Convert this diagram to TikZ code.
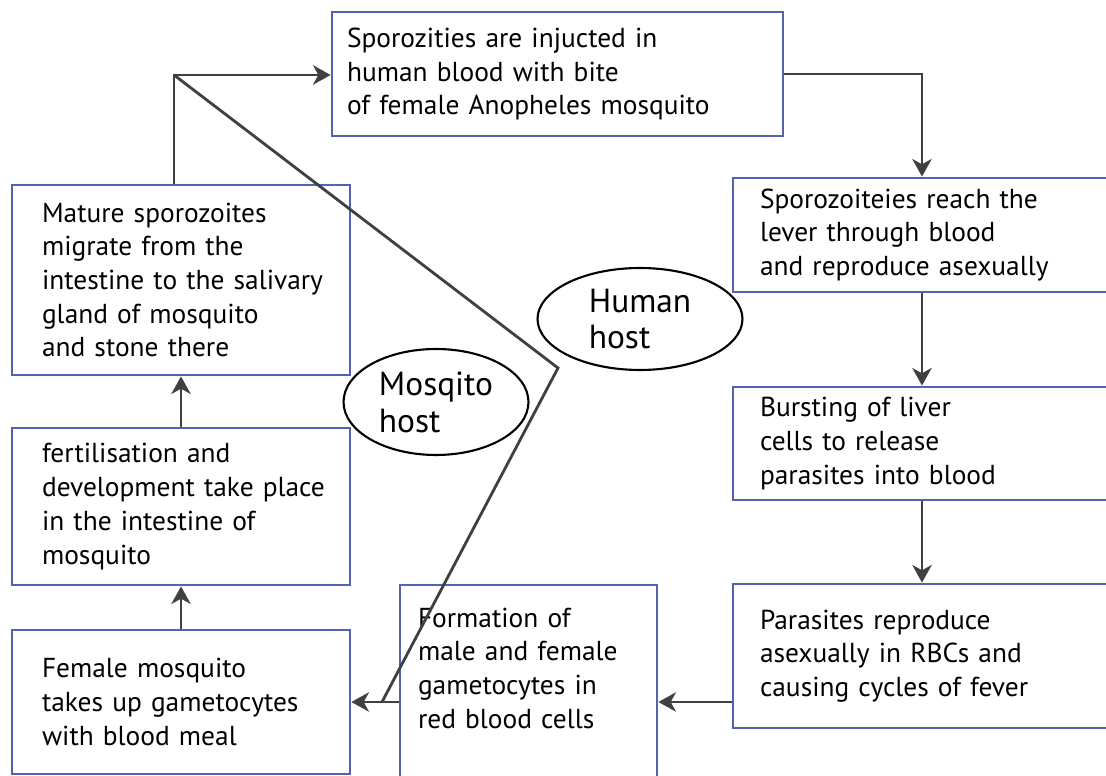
\documentclass[tikz,border=0pt]{standalone}
\usepackage{fontspec}
\setmainfont{PT Sans}
\usetikzlibrary{arrows.meta,positioning,shapes.geometric}
\definecolor{boxblue}{RGB}{84,98,176}
\definecolor{arrowgray}{RGB}{64,64,64}
\tikzset{
  stagebox/.style={draw=boxblue, line width=1.6pt, align=left, inner xsep=0pt, inner ysep=0pt,
    font=\fontsize{15.6}{19.2}\selectfont},
  pad/.style={execute at begin node={\leftskip=#1\relax}},
  hostoval/.style={ellipse, draw, line width=1.2pt, align=left, inner sep=0pt,
    font=\fontsize{19}{21}\selectfont},
  conn/.style={draw=arrowgray, line width=1.6pt, -{Stealth[length=10pt,width=11pt,inset=3pt]}},
}

\begin{document}
\begin{tikzpicture}[x=0.02cm, y=-0.02cm]
        \clip (0,0) rectangle (1106,776);
        %nodes
        \node[stagebox, minimum height=2.48cm, text width=9.02cm, pad=0.3cm] (inj) at (557.5,74)
          {Sporozities are injucted in\\human blood with bite\\of female Anopheles mosquito};
        \node[stagebox, minimum height=2.28cm, text width=7.56cm, pad=0.54cm] (reach) at (922,235)
          {Sporozoiteies reach the\\lever through blood\\and reproduce asexually};
        \node[stagebox, minimum height=2.26cm, text width=7.56cm, pad=0.54cm] (burst) at (922,443.5)
          {Bursting of liver\\cells to release\\parasites into blood};
        \node[stagebox, minimum height=2.88cm, text width=7.56cm, pad=0.54cm] (repro) at (922,656)
          {Parasites reproduce\\asexually in RBCs and\\causing cycles of fever};
        \node[stagebox, minimum height=3.9cm, text width=5.14cm, pad=0.36cm, text depth=74pt] (form) at (528.5,682.5)
          {Formation of\\male and female\\gametocytes in\\red blood cells};
        \node[stagebox, minimum height=2.88cm, text width=6.76cm, pad=0.6cm] (meal) at (181,702)
          {Female mosquito\\takes up gametocytes\\with blood meal};
        \node[stagebox, minimum height=3.14cm, text width=6.76cm, pad=0.6cm] (fert) at (181,506.5)
          {fertilisation and\\development take place\\in the intestine of\\mosquito};
        \node[stagebox, minimum height=3.8cm, text width=6.76cm, pad=0.6cm] (matsp) at (181,280)
          {Mature sporozoites\\migrate from the\\intestine to the salivary\\gland of mosquito\\and stone there};
        \node[hostoval, minimum width=4.1cm, minimum height=2.04cm] (human) at (640,319) {Human\\host};
        \node[hostoval, minimum width=3.7cm, minimum height=2.12cm] (mosq) at (436,402) {Mosqito\\host};
        \coordinate (corner) at (174,75);
        \coordinate (bend) at (558,368);
        \coordinate (low) at (382,702);
        %edges
        \path [conn] (matsp.north -| corner) -- (corner) -- (inj.west |- corner);
        \path [conn] (inj.east) -| (reach.north);
        \path [conn] (reach.south) -- (burst.north);
        \path [conn] (burst.south) -- (repro.north);
        \path [conn] (repro.west |- low) -- (form.east |- low);
        \path [conn] (form.west |- low) -- (meal.east |- low);
        \path [conn] (meal.north) -- (fert.south);
        \path [conn] (fert.north) -- (matsp.south);
        \path [draw=arrowgray, line width=1.6pt, line join=miter] (corner) -- (bend) -- (low);
      \end{tikzpicture}
\end{document}
